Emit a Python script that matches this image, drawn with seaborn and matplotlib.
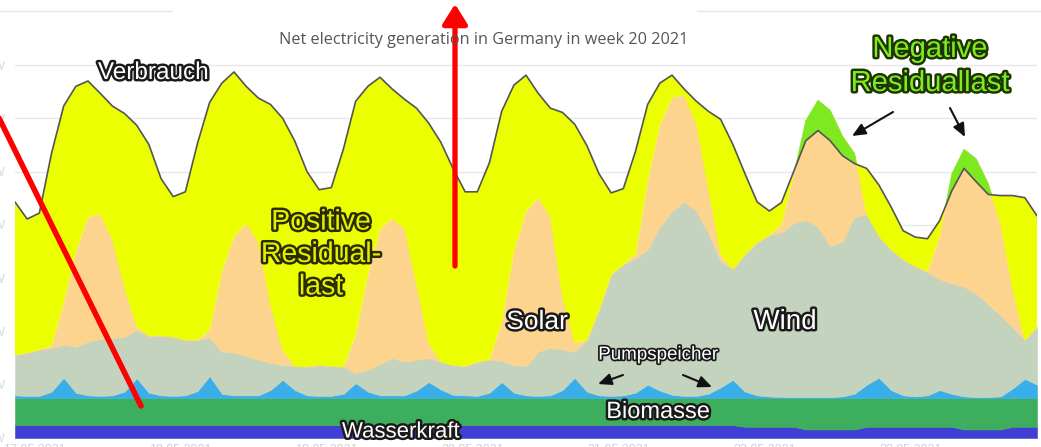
import pandas as pd
import matplotlib
matplotlib.use("Agg")
import matplotlib.pyplot as plt
import matplotlib.patheffects as pe
from matplotlib.lines import Line2D
from matplotlib.transforms import ScaledTranslation
import seaborn as sns

# ================= Daten (KW 20 / 2021, 2-Stunden-Raster, GW) =================
HOURS = list(range(0, 169, 2))

WASSERKRAFT = [2.4, 2.4, 2.4, 2.4, 2.4, 2.4, 2.4, 2.4, 2.4, 2.4,
               2.4, 2.4, 2.4, 2.4, 2.4, 2.4, 2.4, 2.4, 2.4, 2.4,
               2.4, 2.4, 2.4, 2.4, 2.4, 2.4, 2.4, 2.4, 2.4, 2.4,
               2.4, 2.4, 2.4, 2.4, 2.4, 2.4, 2.4, 2.4, 2.4, 2.4,
               2.4, 2.4, 2.4, 2.4, 2.4, 2.4, 2.4, 2.4, 2.4, 2.4,
               2.4, 2.4, 2.4, 2.4, 2.4, 2.4, 2.4, 2.4, 2.4, 2.4,
               2.1, 2.1, 2.1, 2.1, 2.1, 1.6, 1.6, 1.6, 1.6, 1.6,
               2.1, 2.1, 2.1, 2.1, 2.1, 2.1, 2.1, 2.1, 1.6, 1.6,
               1.6, 1.6, 2.1, 2.1, 2.1]
BIOMASSE = [5.1, 5.1, 5.1, 5.1, 5.1, 5.1, 5.1, 5.1, 5.1, 5.1,
            5.1, 5.1, 5.1, 5.1, 5.1, 5.1, 5.1, 5.1, 5.1, 5.1,
            5.1, 5.1, 5.1, 5.1, 5.1, 5.1, 5.1, 5.1, 5.1, 5.1,
            5.1, 5.1, 5.1, 5.1, 5.1, 5.1, 5.1, 5.1, 5.1, 5.1,
            5.1, 5.1, 5.1, 5.1, 5.1, 5.1, 5.1, 5.1, 5.1, 5.1,
            5.1, 5.1, 5.1, 5.1, 5.1, 5.1, 5.1, 5.1, 5.1, 5.1,
            5.4, 5.4, 5.4, 5.4, 5.4, 5.9, 5.9, 5.9, 5.9, 5.9,
            5.4, 5.4, 5.4, 5.4, 5.4, 5.4, 5.4, 5.4, 5.9, 5.9,
            5.9, 5.9, 5.4, 5.4, 5.4]
PUMPSPEICHER = [0.5, 0.4, 0.4, 1.2, 3.8, 1.0, 0.5, 0.4, 0.5, 1.2,
                3.7, 1.0, 0.5, 0.4, 0.5, 1.3, 4.1, 0.8, 0.5, 0.5,
                0.5, 1.5, 3.4, 1.5, 0.5, 0.4, 0.4, 0.8, 2.8, 1.2,
                0.5, 0.5, 0.5, 1.4, 3.0, 1.6, 0.6, 0.5, 0.4, 1.0,
                3.0, 1.0, 0.5, 0.4, 0.5, 1.5, 3.8, 1.2, 0.5, 0.4,
                0.5, 1.0, 2.5, 1.4, 0.6, 0.4, 0.4, 0.8, 2.0, 3.4,
                1.2, 0.5, 0.3, 0.2, 0.2, 0.2, 0.2, 0.2, 0.3, 0.8,
                2.5, 3.8, 1.5, 0.5, 0.3, 0.5, 1.5, 0.8, 0.3, 0.2,
                0.2, 0.3, 1.8, 3.6, 2.5]
WIND = [7.6, 8.1, 8.7, 8.2, 6.2, 8.6, 10.1, 10.7, 10.8, 10.3,
        9.1, 10.7, 11.2, 11.1, 10.4, 9.6, 7.2, 7.9, 8.0, 7.4,
        6.7, 5.1, 2.8, 4.5, 5.4, 5.8, 5.6, 5.1, 1.9, 4.1,
        5.9, 7.0, 6.3, 5.8, 4.5, 5.2, 5.6, 5.5, 6.4, 6.2,
        4.0, 5.2, 5.5, 8.3, 8.9, 7.6, 4.9, 9.7, 16.1, 22.8,
        24.6, 25.2, 25.4, 30.7, 34.5, 36.4, 34.7, 30.1, 23.7, 20.8,
        25.8, 28.7, 30.3, 30.9, 32.6, 33.2, 31.9, 28.3, 29.1, 33.2,
        32.0, 26.6, 26.4, 25.5, 24.4, 23.1, 20.8, 20.7, 20.6, 19.4,
        17.4, 15.2, 11.4, 7.3, 10.9]
SOLAR = [0, 0, 0, 0.4, 7.9, 17.9, 23.4, 23.4, 18.5, 9.2,
         0.6, 0, 0, 0, 0, 0, 1.5, 15.1, 21.9, 24.9,
         22.1, 10.9, 2.8, 0, 0, 0, 0, 0, 7.2, 17.9,
         25.3, 26.2, 25.1, 14.2, 2.8, 0, 0, 0, 0, 0,
         7.4, 21.3, 29.1, 28.9, 24.7, 9.8, 1.7, 0, 0, 0,
         0, 0.8, 13.0, 19.2, 21.3, 20.0, 16.4, 8.3, 1.3, 0,
         0, 0, 0, 1.5, 9.2, 18.7, 23.8, 25.5, 19.8, 11.9,
         0, 0, 0, 0, 0, 0.2, 8.1, 20.6, 25.8, 25.3,
         22.6, 17.2, 7.2, 0, 0]
VERBRAUCH = [44.3, 41.1, 42.2, 53.4, 62.3, 66.0, 67.0, 64.7, 62.3, 60.9,
             58.7, 55.1, 48.7, 45.3, 46.2, 55.3, 63.0, 66.6, 68.7, 66.0,
             63.8, 62.6, 60.0, 55.7, 50.0, 46.6, 47.0, 54.3, 63.2, 66.0,
             67.7, 65.5, 63.6, 61.9, 59.1, 55.5, 50.6, 46.2, 46.2, 51.7,
             61.3, 66.2, 68.1, 64.7, 61.9, 61.1, 58.9, 54.9, 49.6, 46.0,
             46.8, 53.8, 62.6, 66.6, 68.1, 65.5, 63.2, 61.3, 59.8, 55.1,
             49.6, 44.3, 42.6, 44.2, 50.0, 55.8, 57.7, 55.8, 53.0, 51.5,
             50.6, 47.5, 43.4, 38.9, 37.7, 37.4, 40.8, 46.4, 50.6, 48.1,
             45.7, 45.5, 45.5, 45.1, 41.7]

DAY_TICKS = [0, 24, 48, 72, 96, 120, 144]
DAY_LABELS = ["17.05.2021", "18.05.2021", "19.05.2021", "20.05.2021",
              "21.05.2021", "22.05.2021", "23.05.2021"]
GW_TICKS = [0, 10, 20, 30, 40, 50, 60, 70]
GW_LABELS = ["0 GW", "10 GW", "20 GW", "30 GW", "40 GW", "50 GW", "60 GW", "70 GW"]

# ================= Farben =================
COLORS = {
    "Wasserkraft": "#3f3fd3",
    "Biomasse": "#3dae5e",
    "Pumpspeicher": "#3aaee8",
    "Wind": "#c4d3be",
    "Solar": "#fdd48e",
}
COLOR_RESIDUAL_POS = "#ecff00"
COLOR_RESIDUAL_NEG = "#7ee820"
COLOR_LOAD = "#555555"

W, H = 1041, 447


def fx(px):
    return px / W


def fy(py):
    return 1 - py / H


sns.set_theme(style="white")
plt.rcParams['font.family'] = ['Liberation Sans', 'DejaVu Sans']

df = pd.DataFrame({
    "Stunde": HOURS,
    "Wasserkraft": WASSERKRAFT,
    "Biomasse": BIOMASSE,
    "Pumpspeicher": PUMPSPEICHER,
    "Wind": WIND,
    "Solar": SOLAR,
    "Verbrauch": VERBRAUCH,
})
layers = ["Wasserkraft", "Biomasse", "Pumpspeicher", "Wind", "Solar"]
stack = df[layers].cumsum(axis=1)

fig = plt.figure(figsize=(W / 100, H / 100), dpi=100)
ax = fig.add_axes([fx(15), 9 / H, 1022 / W, 438 / H])
ax.set_xlim(0, 168)
ax.set_ylim(0, 82.2)

# gestapelte Flächen
prev = 0
for name in layers:
    ax.fill_between(df["Stunde"], prev, stack[name], color=COLORS[name],
                    lw=0.4, edgecolor=COLORS[name], zorder=2)
    prev = stack[name]

top = stack["Solar"]
load = df["Verbrauch"]
# positive Residuallast (gelb) und negative (grün)
ax.fill_between(df["Stunde"], top, load, where=load >= top, interpolate=True,
                color=COLOR_RESIDUAL_POS, lw=0.4, edgecolor=COLOR_RESIDUAL_POS, zorder=2)
ax.fill_between(df["Stunde"], load, top, where=top > load, interpolate=True,
                color=COLOR_RESIDUAL_NEG, lw=0.4, edgecolor=COLOR_RESIDUAL_NEG, zorder=3)

sns.lineplot(data=df, x="Stunde", y="Verbrauch", ax=ax, color=COLOR_LOAD,
             lw=1.2, zorder=4)

ax.set_yticks(GW_TICKS)
ax.set_yticklabels(GW_LABELS)
ax.set_xticks(DAY_TICKS)
ax.set_xticklabels(DAY_LABELS)
ax.tick_params(axis='y', length=0, pad=7.5, labelsize=9, colors='#d8d8d8')
ax.tick_params(axis='x', length=0, pad=4, labelsize=9, colors='#d0d0d0')
shift = ScaledTranslation(14 / 72, 0, fig.dpi_scale_trans)
for lbl in ax.get_xticklabels():
    lbl.set_transform(lbl.get_transform() + shift)
ax.set_xlabel("")
ax.set_ylabel("")
ax.grid(axis='y', color='#e8e8e8', lw=1)
ax.grid(axis='x', visible=False)
ax.set_axisbelow(True)
for s in ax.spines.values():
    s.set_visible(False)

# obere Linie (durch Kasten unterbrochen)
for x0, x1 in [(0, 172), (697, 1041)]:
    fig.add_artist(Line2D([fx(x0), fx(x1)], [fy(11), fy(11)], color='#e6e6e6',
                          lw=1, transform=fig.transFigure))

fig.text(fx(484), fy(40), "Net electricity generation in Germany in week 20 2021",
         ha='center', va='center', fontsize=11.7, color='#555555',
         family=['Open Sans', 'DejaVu Sans'])

# Beschriftungen
dark = [pe.withStroke(linewidth=3.5, foreground='#1a1a1a')]
thin = [pe.withStroke(linewidth=2.5, foreground='#1a1a1a')]
fig.text(fx(153), fy(73), "Verbrauch", ha='center', va='center', fontsize=17.5,
         color='white', path_effects=dark, zorder=10)
fig.text(fx(321), fy(255), "Positive\nResidual-\nlast", ha='center', va='center',
         multialignment='center', fontsize=20.5, linespacing=1.32, color='#e2f000',
         path_effects=[pe.withStroke(linewidth=3.5, foreground='#2b2b00')], zorder=10)
fig.text(fx(537), fy(322), "Solar", ha='center', va='center', fontsize=19,
         color='white', path_effects=dark, zorder=10)
fig.text(fx(785), fy(322), "Wind", ha='center', va='center', fontsize=20,
         color='white', path_effects=dark, zorder=10)
fig.text(fx(658), fy(355), "Pumpspeicher", ha='center', va='center', fontsize=13.5,
         color='white', path_effects=thin, zorder=10)
fig.text(fx(658), fy(412), "Biomasse", ha='center', va='center', fontsize=17,
         color='white', path_effects=dark, zorder=10)
fig.text(fx(401), fy(432), "Wasserkraft", ha='center', va='center', fontsize=16,
         color='white', path_effects=dark, zorder=10)
fig.text(fx(930), fy(66), "Negative\nResiduallast", ha='center', va='center',
         multialignment='center', fontsize=21, linespacing=1.28, color='#7eec1e',
         path_effects=[pe.withStroke(linewidth=3.5, foreground='#1d3300')], zorder=10)

# schwarze Pfeile
black_arrow = dict(arrowstyle='-|>,head_length=0.8,head_width=0.35', color='#111111',
                   lw=1.5, mutation_scale=10, shrinkA=0, shrinkB=0)
for (x0, y0), (x1, y1) in [((893, 112), (852, 136)), ((950, 108), (965, 137)),
                           ((623, 375), (598, 384)), ((683, 375), (712, 387))]:
    ax.annotate('', xy=(fx(x1), fy(y1)), xytext=(fx(x0), fy(y0)),
                xycoords='figure fraction', textcoords='figure fraction',
                arrowprops=black_arrow, zorder=11)

# rote Markierungen
ax.annotate('', xy=(fx(455), fy(4)), xytext=(fx(455), fy(266)),
            xycoords='figure fraction', textcoords='figure fraction',
            arrowprops=dict(arrowstyle='-|>,head_length=1.2,head_width=0.75',
                            color='red', lw=3.8, mutation_scale=10,
                            shrinkA=0, shrinkB=0), zorder=12)
fig.add_artist(Line2D([fx(-2), fx(141)], [fy(116), fy(406)], color='red', lw=4,
                      transform=fig.transFigure, zorder=12))

fig.savefig("out.png", dpi=100, facecolor='white')
